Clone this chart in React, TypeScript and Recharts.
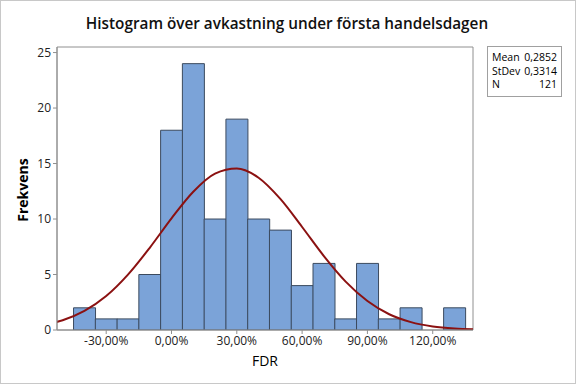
import { ComposedChart, Bar, Line, XAxis, YAxis, ReferenceArea } from 'recharts';

// bin centres (FDR, fraction) and frequencies
const binCenters = [-0.6, -0.5, -0.4, -0.3, -0.2, -0.1, 0, 0.1, 0.2, 0.3, 0.4, 0.5, 0.6, 0.7, 0.8, 0.9, 1.0, 1.1, 1.2, 1.3, 1.4];
const counts = [null, null, 2, 1, 1, 5, 18, 24, 10, 19, 10, 9, 4, 6, 1, 6, 1, 2, 0, 2, null];
// fitted normal curve read at the same points
const curve = [0.41, 0.88, 1.72, 3.06, 4.99, 7.41, 10.06, 12.46, 14.09, 14.55, 13.72, 11.81, 9.28, 6.66, 4.36, 2.61, 1.42, 0.71, 0.32, 0.13, 0.05];

const xTicks = [-0.3, 0, 0.3, 0.6, 0.9, 1.2];
const yTicks = [0, 5, 10, 15, 20, 25];

const stats = [
  { label: 'Mean', value: '0,2852' },
  { label: 'StDev', value: '0,3314' },
  { label: 'N', value: '121' },
];

const data = binCenters.map((x, i) => ({ x, count: counts[i], fit: curve[i] }));

const FONT = '"Open Sans", sans-serif';

const fmtPct = (v: number) => `${(v * 100).toFixed(2).replace('.', ',')}%`;

const App = () => {
  return (
    <div style={{ position: 'absolute', left: 0, top: 0, width: 576, height: 384, background: '#fff', fontFamily: FONT }}>
      <div style={{ position: 'absolute', inset: 0, border: '1px solid #c8c8c8', boxSizing: 'border-box' }} />
      <div style={{ position: 'absolute', top: 13, left: 0, width: 574, textAlign: 'center', fontSize: 15.3, fontWeight: 600, color: '#111' }}>
        Histogram över avkastning under första handelsdagen
      </div>
      <div
        style={{
          position: 'absolute', left: 22, top: 190, transform: 'translate(-50%, -50%) rotate(-90deg)',
          fontSize: 14, fontWeight: 'bold', color: '#000', whiteSpace: 'nowrap',
        }}
      >
        Frekvens
      </div>
      <div style={{ position: 'absolute', left: 215, width: 100, top: 351, textAlign: 'center', fontSize: 14, color: '#000' }}>
        FDR
      </div>
      <div
        style={{
          position: 'absolute', left: 487, top: 46, width: 75, height: 51, border: '1px solid #a0a0a0',
          boxSizing: 'border-box', fontSize: 10.5, color: '#000', padding: '4px 4px 0 4px', lineHeight: '13.5px',
        }}
      >
        {stats.map((s) => (
          <div key={s.label} style={{ display: 'flex', justifyContent: 'space-between' }}>
            <span>{s.label}</span>
            <span>{s.value}</span>
          </div>
        ))}
      </div>
      <div style={{ position: 'absolute', left: 0, top: 0 }}>
        <ComposedChart width={576} height={384} data={data} margin={{ top: 47, right: 103, bottom: 0, left: 0 }} barCategoryGap={0} barGap={0}>
          <XAxis
            dataKey="x"
            type="number"
            domain={[-0.526, 1.385]}
            allowDataOverflow
            ticks={xTicks}
            tickFormatter={fmtPct}
            tick={{ fill: '#222', fontSize: 12, fontFamily: FONT }}
            stroke="#909090"
            tickSize={4}
            height={54}
          />
          <YAxis
            type="number"
            domain={[0, 25.5]}
            ticks={yTicks}
            allowDataOverflow
            tick={{ fill: '#222', fontSize: 12, fontFamily: FONT }}
            stroke="#909090"
            tickSize={4}
            width={57}
          />
          <ReferenceArea y1={0} y2={25.5} fill="none" stroke="#909090" strokeWidth={1} ifOverflow="visible" />
          <Bar dataKey="count" fill="#7BA3D8" stroke="#3b4a5e" strokeWidth={1} isAnimationActive={false} />
          <Line dataKey="fit" type="monotone" stroke="#8B1111" strokeWidth={2} dot={false} isAnimationActive={false} />
        </ComposedChart>
      </div>
    </div>
  );
};

export default App;
